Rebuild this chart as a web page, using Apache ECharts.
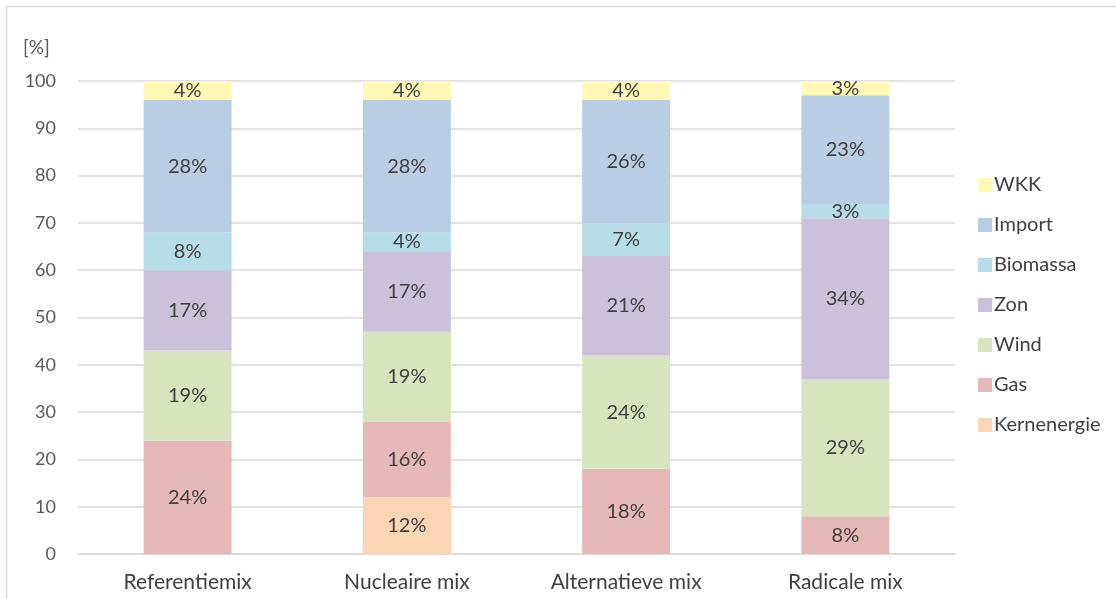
<!DOCTYPE html>
<html>
<head>
<meta charset="utf-8">
<script src="https://cdn.jsdelivr.net/npm/echarts@6/dist/echarts.min.js"></script>
<style>
  html, body { margin: 0; padding: 0; background: #fff; }
  #chart { width: 1116px; height: 599px; }
</style>
</head>
<body>
<div id="chart"></div>
<script>
// Electricity mix per scenario, share in percent
const categories = ['Referentiemix', 'Nucleaire mix', 'Alternatieve mix', 'Radicale mix'];
const kernenergie = [0, 12, 0, 0];
const gas        = [24, 16, 18, 8];
const wind       = [19, 19, 24, 29];
const zon        = [17, 17, 21, 34];
const biomassa   = [8, 4, 7, 3];
const importMix  = [28, 28, 26, 23];
const wkk        = [4, 4, 4, 3];
const yTicks = [0, 10, 20, 30, 40, 50, 60, 70, 80, 90, 100];

const seriesDefs = [
  { name: 'Kernenergie', data: kernenergie, color: '#FCD5B5' },
  { name: 'Gas',         data: gas,         color: '#E6B9B8' },
  { name: 'Wind',        data: wind,        color: '#D7E4BD' },
  { name: 'Zon',         data: zon,         color: '#CCC1DA' },
  { name: 'Biomassa',    data: biomassa,    color: '#B7DEE8' },
  { name: 'Import',      data: importMix,   color: '#B9CDE5' },
  { name: 'WKK',         data: wkk,         color: '#FFF9B5' }
];

const FONT = 'Lato, "Open Sans", sans-serif';

const chart = echarts.init(document.getElementById('chart'), null, { renderer: 'canvas' });

chart.setOption({
  animation: false,
  backgroundColor: '#fff',
  textStyle: { fontFamily: FONT },
  graphic: [{
    type: 'rect',
    shape: { x: 6.5, y: 6.5, width: 1130, height: 620 },
    style: { fill: 'none', stroke: '#d9d9d9', lineWidth: 1.5 },
    silent: true, z: -1
  }, {
    type: 'text',
    left: 23, top: 38,
    style: { text: '[%]', fill: '#595959', font: '19px ' + FONT }
  }],
  grid: { left: 78, right: 161, top: 81, bottom: 45 },
  legend: {
    orient: 'vertical',
    left: 973,
    top: 170,
    itemWidth: 14,
    itemHeight: 14,
    itemGap: 20,
    icon: 'rect',
    textStyle: { color: '#404040', fontSize: 20, fontFamily: FONT, padding: [0, 0, 0, -3] },
    data: seriesDefs.map(s => s.name).reverse()
  },
  xAxis: {
    type: 'category',
    data: categories,
    axisLine: { lineStyle: { color: '#d9d9d9', width: 1.5 } },
    axisTick: { show: false },
    axisLabel: { color: '#404040', fontSize: 21, fontFamily: FONT, margin: 18 }
  },
  yAxis: {
    type: 'value',
    min: 0, max: 100, interval: 10,
    axisLine: { show: false },
    axisTick: { show: false },
    splitLine: { lineStyle: { color: '#d9d9d9', width: 1.5 } },
    axisLabel: {
      color: '#595959', fontSize: 18, fontFamily: FONT, margin: 22,
      formatter: v => (yTicks.includes(v) ? String(v) : '')
    }
  },
  series: seriesDefs.map(s => ({
    name: s.name,
    type: 'bar',
    stack: 'mix',
    barWidth: 88,
    itemStyle: { color: s.color },
    data: s.data.map(v => (v === 0 ? '-' : v)),
    label: {
      show: true,
      position: 'inside',
      color: '#404040',
      fontSize: 20,
      fontFamily: FONT,
      formatter: p => p.value + '%'
    }
  }))
});
</script>
</body>
</html>
